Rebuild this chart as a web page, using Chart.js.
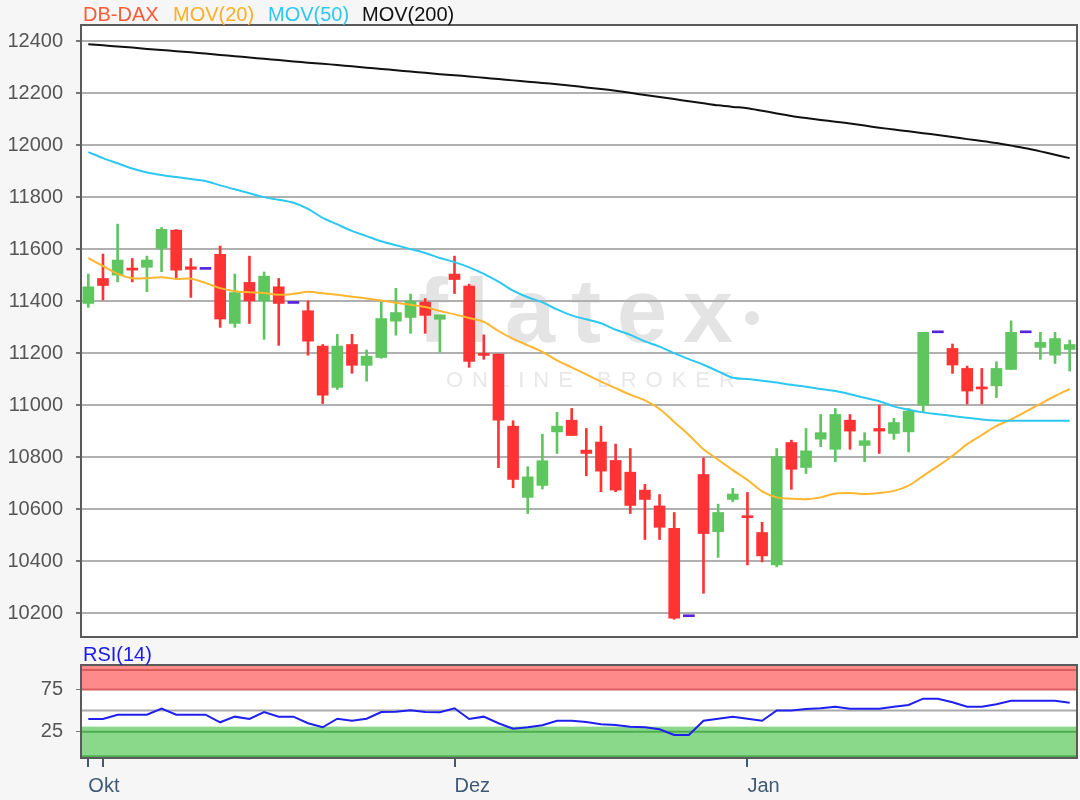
<!DOCTYPE html>
<html>
<head>
<meta charset="utf-8">
<script src="https://cdn.jsdelivr.net/npm/chart.js@4.4.1/dist/chart.umd.min.js"></script>
<style>
    body { margin: 0; width: 1080px; height: 800px; overflow: hidden; background: #f6f6f6; position: relative; }
    canvas { position: absolute; left: 0; }
    #priceChart { top: 0; }
    #rsiChart { top: 645px; }
</style>
</head>
<body>
<canvas id="priceChart" width="1080" height="645"></canvas>
<canvas id="rsiChart" width="1080" height="155"></canvas>
<script>
// Candles (one entry per trading day)
const open  = [11391, 11487, 11500, 11527, 11530, 11603, 11673, 11532, 11522, 11580, 11314, 11472, 11401, 11455, 11391, 11363, 11227, 11068, 11233, 11153, 11183, 11323, 11337, 11396, 11330, 11504, 11458, 11199, 11196, 10919, 10645, 10691, 10897, 10942, 10827, 10858, 10787, 10742, 10673, 10612, 10526, 10186, 10733, 10513, 10637, 10573, 10510, 10385, 10856, 10760, 10869, 10830, 10942, 10845, 10910, 10891, 10897, 11000, 11278, 11218, 11141, 11070, 11074, 11137, 11278, 11222, 11192, 11214];
const high  = [11504, 11581, 11696, 11564, 11573, 11683, 11675, 11564, 11522, 11612, 11504, 11573, 11512, 11487, 11391, 11401, 11233, 11272, 11272, 11212, 11397, 11449, 11427, 11410, 11347, 11573, 11465, 11270, 11196, 10940, 10763, 10888, 10972, 10987, 10910, 10919, 10850, 10833, 10695, 10656, 10587, 10186, 10797, 10619, 10680, 10664, 10549, 10833, 10865, 10910, 10964, 10987, 10964, 10894, 11000, 10949, 10987, 11280, 11278, 11235, 11150, 11141, 11167, 11324, 11278, 11280, 11280, 11250];
const low   = [11376, 11404, 11474, 11474, 11436, 11513, 11487, 11414, 11522, 11299, 11299, 11314, 11253, 11230, 11391, 11192, 11006, 11060, 11122, 11092, 11180, 11269, 11276, 11276, 11204, 11429, 11145, 11176, 10759, 10682, 10583, 10677, 10814, 10883, 10728, 10667, 10667, 10583, 10483, 10483, 10176, 10186, 10276, 10414, 10628, 10385, 10397, 10378, 10676, 10737, 10840, 10782, 10830, 10782, 10814, 10868, 10820, 10974, 11278, 11122, 11004, 11004, 11029, 11137, 11278, 11176, 11160, 11131];
const close = [11455, 11460, 11558, 11519, 11558, 11676, 11519, 11522, 11522, 11331, 11433, 11401, 11496, 11391, 11391, 11246, 11038, 11227, 11153, 11188, 11333, 11356, 11400, 11345, 11347, 11483, 11168, 11191, 10942, 10714, 10724, 10786, 10919, 10883, 10814, 10746, 10673, 10614, 10637, 10530, 10180, 10186, 10506, 10587, 10658, 10567, 10420, 10802, 10753, 10824, 10894, 10964, 10900, 10863, 10900, 10933, 10977, 11280, 11278, 11154, 11054, 11062, 11141, 11280, 11278, 11241, 11256, 11233];

// Moving averages
const mov20  = [11565, 11535, 11505, 11488, 11488, 11492, 11485, 11486, 11470, 11450, 11438, 11434, 11431, 11424, 11428, 11436, 11430, 11424, 11417, 11410, 11402, 11394, 11386, 11377, 11362, 11349, 11335, 11320, 11285, 11255, 11230, 11205, 11172, 11145, 11118, 11090, 11065, 11040, 11018, 10985, 10935, 10885, 10830, 10790, 10750, 10712, 10668, 10645, 10640, 10638, 10645, 10660, 10662, 10658, 10662, 10670, 10690, 10728, 10765, 10805, 10850, 10885, 10920, 10945, 10975, 11005, 11035, 11062];
const mov50  = [11973, 11950, 11930, 11910, 11895, 11885, 11877, 11870, 11862, 11845, 11830, 11815, 11800, 11790, 11778, 11755, 11720, 11695, 11670, 11650, 11630, 11615, 11600, 11585, 11566, 11550, 11530, 11505, 11475, 11440, 11415, 11395, 11368, 11345, 11330, 11315, 11290, 11270, 11245, 11225, 11200, 11177, 11155, 11130, 11105, 11100, 11094, 11087, 11078, 11071, 11062, 11054, 11042, 11028, 11015, 10995, 10982, 10972, 10965, 10958, 10951, 10945, 10941, 10940, 10940, 10940, 10940, 10940];
const mov200 = [12388, 12384, 12379, 12375, 12370, 12366, 12361, 12357, 12352, 12347, 12342, 12337, 12332, 12327, 12322, 12317, 12313, 12308, 12303, 12298, 12293, 12288, 12283, 12278, 12273, 12269, 12264, 12259, 12254, 12249, 12244, 12239, 12234, 12228, 12222, 12216, 12209, 12201, 12193, 12185, 12177, 12169, 12161, 12153, 12147, 12142, 12132, 12122, 12112, 12104, 12097, 12090, 12083, 12075, 12067, 12060, 12053, 12046, 12039, 12031, 12023, 12016, 12008, 11998, 11988, 11976, 11963, 11950];

// RSI(14)
const rsi = [40.0, 40.0, 45.1, 45.1, 45.1, 52.3, 45.1, 45.1, 45.1, 36.1, 42.8, 40.0, 48.3, 42.8, 42.8, 35.0, 30.2, 40.4, 38.0, 40.4, 48.3, 48.7, 50.4, 48.3, 48.0, 52.7, 40.0, 42.8, 35.0, 28.6, 30.2, 32.6, 38.0, 38.0, 36.5, 33.8, 33.0, 30.9, 30.2, 27.8, 21.1, 21.1, 38.0, 40.4, 42.8, 40.4, 38.0, 50.1, 50.1, 51.9, 52.7, 54.6, 52.3, 52.3, 52.3, 54.6, 56.6, 64.1, 64.1, 59.8, 54.6, 54.6, 57.5, 61.7, 61.7, 61.7, 61.7, 59.4];

// Axis ticks
const priceTicks = [10200, 10400, 10600, 10800, 11000, 11200, 11400, 11600, 11800, 12000, 12200, 12400];
const rsiTicks = [25, 75];
const monthTickIndex = [0, 1, 25, 45];
const monthTickText = ['Okt', '', 'Dez', 'Jan'];

const days = open.map((_, i) => i);
const GREEN = '#5fc65f', RED = '#ff3333', FLAT = '#5522dd';
const FONT = '"Liberation Sans", Arial, sans-serif';

const candleColor = days.map(i => high[i] === low[i] ? FLAT : (close[i] >= open[i] ? GREEN : RED));

// keep y axis at a fixed width and stop it from padding the chart area
const fixY = s => { s.width = 81; s.paddingTop = 0; s.paddingBottom = 0; };

// Main price panel
const pricePanel = {
    id: 'pricePanel',
    beforeDraw(chart) {
        const { ctx, chartArea: a } = chart;
        ctx.save();
        ctx.fillStyle = '#ffffff';
        ctx.fillRect(a.left, a.top, a.right - a.left, a.bottom - a.top);
        // watermark
        ctx.fillStyle = '#e4e4e4';
        ctx.font = 'bold 90px ' + FONT;
        ctx.letterSpacing = '16px';
        ctx.textBaseline = 'alphabetic';
        ctx.fillText('flatex', 418, 342);
        ctx.beginPath();
        ctx.arc(752, 318, 7, 0, Math.PI * 2);
        ctx.fill();
        ctx.fillStyle = '#e8e8e8';
        ctx.font = '22px ' + FONT;
        ctx.letterSpacing = '9px';
        ctx.fillText('ONLINE BROKER', 446, 387);
        ctx.restore();
    },
    afterDraw(chart) {
        const { ctx, chartArea: a } = chart;
        ctx.save();
        ctx.strokeStyle = '#5a5a5a';
        ctx.lineWidth = 2;
        ctx.strokeRect(a.left, a.top, a.right - a.left, a.bottom - a.top);
        ctx.font = '20px ' + FONT;
        ctx.textBaseline = 'alphabetic';
        const parts = [['DB-DAX', '#ff5a36', 83], ['MOV(20)', '#ffae26', 173], ['MOV(50)', '#2cc8f2', 268], ['MOV(200)', '#111111', 362]];
        parts.forEach(([t, c, x]) => { ctx.fillStyle = c; ctx.fillText(t, x, 21); });
        ctx.restore();
    }
};

new Chart(document.getElementById('priceChart'), {
    type: 'bar',
    data: {
        labels: days,
        datasets: [
            { type: 'line', data: mov200, borderColor: '#111111', borderWidth: 2, pointRadius: 0, tension: 0.3, order: 0 },
            { type: 'line', data: mov50, borderColor: '#2cc8f2', borderWidth: 2, pointRadius: 0, tension: 0.3, order: 0 },
            { type: 'line', data: mov20, borderColor: '#ffb62e', borderWidth: 2, pointRadius: 0, tension: 0.3, order: 0 },
            { data: days.map(i => [open[i], close[i]]), backgroundColor: candleColor, barThickness: 11, minBarLength: 2, grouped: false, order: 1 },
            { data: days.map(i => high[i] === low[i] ? null : [low[i], high[i]]), backgroundColor: candleColor, barThickness: 2, grouped: false, order: 2 }
        ]
    },
    options: {
        responsive: false,
        animation: false,
        layout: { padding: { left: 0, right: 3, top: 25, bottom: 8 } },
        plugins: { legend: { display: false }, tooltip: { enabled: false } },
        scales: {
            x: { display: false, offset: true },
            y: {
                min: 10108, max: 12462,
                afterBuildTicks: s => { s.ticks = priceTicks.map(v => ({ value: v })); },
                afterFit: fixY,
                ticks: { color: '#555555', font: { family: FONT, size: 20 }, padding: 13, callback: v => String(v) },
                grid: { color: '#b0b0b0', lineWidth: 2, tickLength: 5, tickColor: '#777777' },
                border: { color: '#555555', width: 2 }
            }
        }
    },
    plugins: [pricePanel]
});

// RSI panel
const rsiPanel = {
    id: 'rsiPanel',
    beforeDraw(chart) {
        const { ctx, chartArea: a } = chart;
        const y = chart.scales.y;
        const band = (from, to, color) => {
            const y1 = y.getPixelForValue(to), y2 = y.getPixelForValue(from);
            ctx.fillStyle = color;
            ctx.fillRect(a.left, y1, a.right - a.left, y2 - y1);
        };
        const hline = (v, color, w) => {
            const py = y.getPixelForValue(v);
            ctx.strokeStyle = color;
            ctx.lineWidth = w;
            ctx.beginPath();
            ctx.moveTo(a.left, py);
            ctx.lineTo(a.right, py);
            ctx.stroke();
        };
        ctx.save();
        ctx.fillStyle = '#ffffff';
        ctx.fillRect(a.left, a.top, a.right - a.left, a.bottom - a.top);
        band(74.5, 103.5, '#ff8a8a');
        band(-4.5, 31, '#8ad88a');
        hline(98, '#d85c5c', 2);
        hline(75, '#d85c5c', 2);
        hline(25, '#4fae4f', 2);
        hline(-4, '#4fae4f', 2);
        hline(50, '#aaaaaa', 2);
        ctx.restore();
    },
    afterDraw(chart) {
        const { ctx, chartArea: a } = chart;
        ctx.save();
        ctx.strokeStyle = '#5a5a5a';
        ctx.lineWidth = 2;
        ctx.strokeRect(a.left, a.top, a.right - a.left, a.bottom - a.top);
        ctx.font = '20px ' + FONT;
        ctx.fillStyle = '#1a1aee';
        ctx.fillText('RSI(14)', 83, 16);
        ctx.restore();
    }
};

new Chart(document.getElementById('rsiChart'), {
    type: 'line',
    data: {
        labels: days,
        datasets: [
            { data: rsi, borderColor: '#1f1ff0', borderWidth: 2, pointRadius: 0, tension: 0 }
        ]
    },
    options: {
        responsive: false,
        animation: false,
        layout: { padding: { left: 0, right: 3, top: 20, bottom: 0 } },
        plugins: { legend: { display: false }, tooltip: { enabled: false } },
        scales: {
            x: {
                offset: true,
                afterFit: s => { s.height = 42; },
                ticks: {
                    autoSkip: false, maxRotation: 0, align: 'start', padding: 7,
                    color: '#3f5a76', font: { family: FONT, size: 20 },
                    callback: (v, i) => { const k = monthTickIndex.indexOf(i); return k < 0 ? '' : monthTickText[k]; }
                },
                grid: {
                    offset: false, drawOnChartArea: false, tickLength: 9, lineWidth: 2,
                    color: c => monthTickIndex.includes(c.index) ? '#3f5a76' : 'rgba(0,0,0,0)'
                },
                border: { display: false }
            },
            y: {
                min: -6.2, max: 104,
                afterBuildTicks: s => { s.ticks = rsiTicks.map(v => ({ value: v })); },
                afterFit: fixY,
                ticks: { color: '#555555', font: { family: FONT, size: 20 }, padding: 13 },
                grid: { drawOnChartArea: false, tickLength: 5, color: '#777777' },
                border: { color: '#555555', width: 2 }
            }
        }
    },
    plugins: [rsiPanel]
});
</script>
</body>
</html>
